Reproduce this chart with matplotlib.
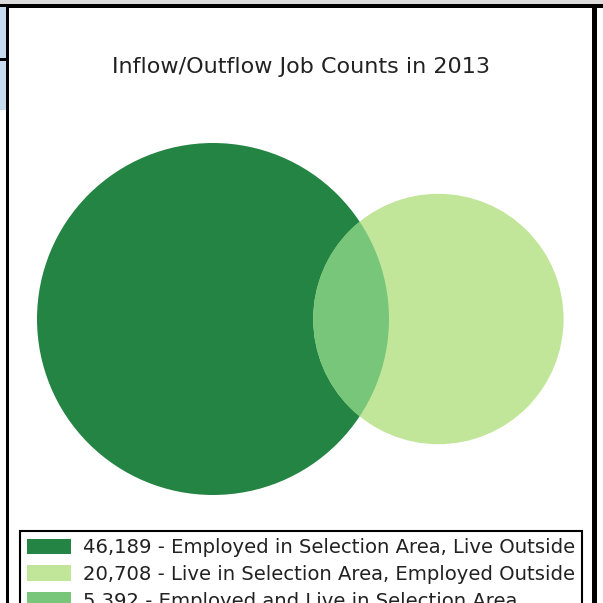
import numpy as np
import matplotlib

matplotlib.use("Agg")
import matplotlib.pyplot as plt
from matplotlib.patches import Circle, Patch, Rectangle

# job counts (LEHD inflow/outflow)
labels = [
    "Employed in Selection Area, Live Outside",
    "Live in Selection Area, Employed Outside",
    "Employed and Live in Selection Area",
]
counts = [46189, 20708, 5392]
colors = ["#238443", "#c2e699", "#78c679"]
title = "Inflow/Outflow Job Counts in 2013"

W = H = 603
PX_PER_SQRT_JOB = 1.3735


def lens_area(d, r1, r2):
    a1 = np.arccos(np.clip((d**2 + r1**2 - r2**2) / (2 * d * r1), -1, 1))
    a2 = np.arccos(np.clip((d**2 + r2**2 - r1**2) / (2 * d * r2), -1, 1))
    k = (-d + r1 + r2) * (d + r1 - r2) * (d - r1 + r2) * (d + r1 + r2)
    return r1**2 * a1 + r2**2 * a2 - 0.5 * np.sqrt(max(k, 0.0))


def solve_distance(r1, r2, target):
    lo, hi = abs(r1 - r2) + 1e-6, r1 + r2 - 1e-6
    for _ in range(100):
        mid = 0.5 * (lo + hi)
        if lens_area(mid, r1, r2) > target:
            lo = mid
        else:
            hi = mid
    return 0.5 * (lo + hi)


def main() -> None:
    work_out, live_out, both = counts
    r1 = np.sqrt((work_out + both) / np.pi) * PX_PER_SQRT_JOB
    r2 = np.sqrt((live_out + both) / np.pi) * PX_PER_SQRT_JOB
    d = solve_distance(r1, r2, both * PX_PER_SQRT_JOB**2)

    fig = plt.figure(figsize=(W / 100, H / 100), dpi=100)
    ax = fig.add_axes([0, 0, 1, 1])
    ax.set_xlim(0, W)
    ax.set_ylim(H, 0)
    ax.set_aspect("equal")
    ax.axis("off")

    cx, cy = 213, 319
    big = Circle((cx, cy), r1, facecolor=colors[0], edgecolor="none")
    small = Circle((cx + d, cy), r2, facecolor=colors[1], edgecolor="none")
    ax.add_patch(big)
    ax.add_patch(small)
    clip = Circle((cx, cy), r1, transform=ax.transData)
    lens = Circle((cx + d, cy), r2, facecolor=colors[2], edgecolor="none")
    ax.add_patch(lens)
    lens.set_clip_path(clip)

    fig.text(0.5, 1 - 73 / H, title, ha="center", va="baseline",
             fontsize=16, color="#222222")

    handles = [Patch(facecolor=c, edgecolor="none") for c in colors]
    leg_labels = [f"{n:,} - {t}" for n, t in zip(counts, labels)]
    leg = fig.legend(
        handles, leg_labels,
        loc="upper left", bbox_to_anchor=(20 / W, 1 - 531 / H),
        fontsize=14.1, frameon=True, fancybox=False, framealpha=1,
        edgecolor="black", borderaxespad=0, borderpad=0.36,
        handlelength=2.25, handleheight=0.82, handletextpad=0.6,
        labelspacing=0.4,
    )
    leg.get_frame().set_linewidth(1.5)
    for txt in leg.get_texts():
        txt.set_color("#222222")

    # surrounding screenshot frame
    def px_rect(x0, y0, w, h, color):
        fig.add_artist(Rectangle((x0 / W, 1 - (y0 + h) / H), w / W, h / H,
                                 transform=fig.transFigure, facecolor=color,
                                 edgecolor="none"))

    px_rect(0, 0, W, 4, "#dcdcdc")
    px_rect(0, 4, W, 3.5, "black")
    px_rect(0, 7, 6, 103, "#c6dbef")
    px_rect(0, 58, 6, 3, "black")
    px_rect(6, 4, 3.5, H, "black")
    px_rect(592, 4, 5, H, "black")

    fig.savefig("out.png", dpi=100)
    plt.close(fig)


if __name__ == "__main__":
    main()
